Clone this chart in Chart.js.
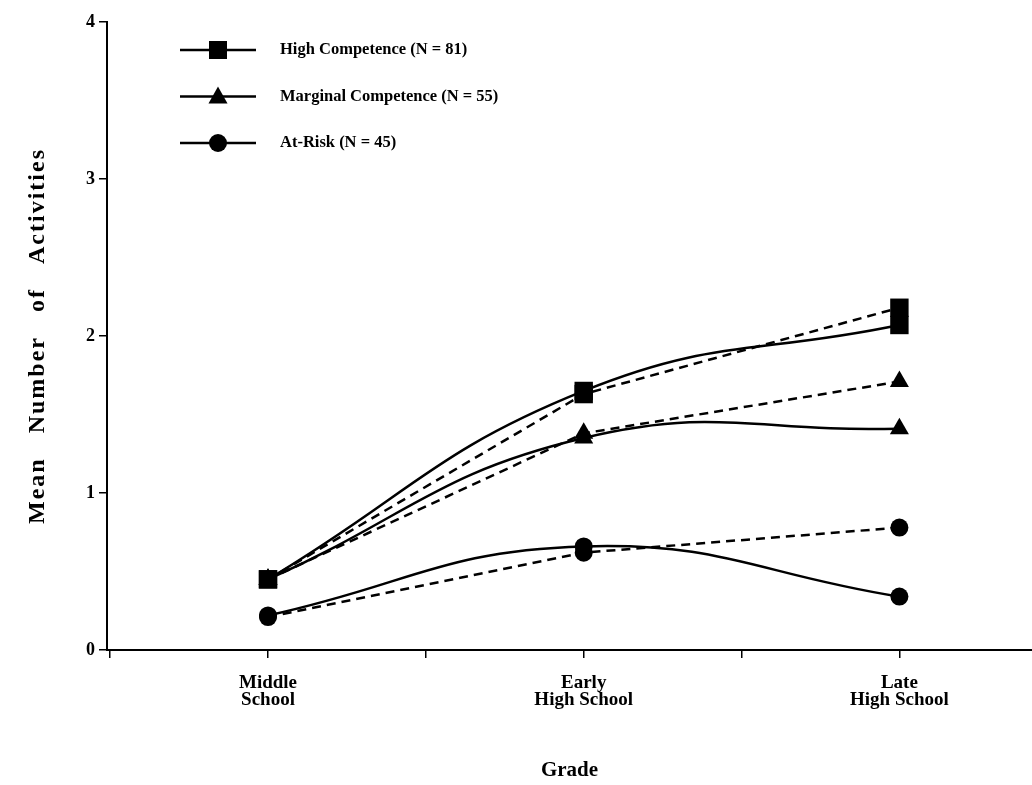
<!DOCTYPE html>
<html>
<head>
<meta charset="utf-8">
<title>Mean Number of Activities by Grade</title>
<script src="https://cdn.jsdelivr.net/npm/chart.js@4.4.1/dist/chart.umd.min.js"></script>
<style>
  body { margin: 0; background: #fff; }
  #wrap { width: 1032px; height: 785px; }
</style>
</head>
<body>
<div id="wrap"><canvas id="chart" width="1032" height="785"></canvas></div>
<script>
"use strict";

// grades on the x axis (1 = middle school, 2 = early HS, 3 = late HS)
const grades = [1, 2, 3];
const gradeLabels = { 1: ["Middle", "School"], 2: ["Early", "High School"], 3: ["Late", "High School"] };
const xTicks = [0.5, 1, 1.5, 2, 2.5, 3];

const groups = ["High Competence (N = 81)", "Marginal Competence (N = 55)", "At-Risk (N = 45)"];
const markers = ["rect", "triangle", "circle"];
const yTitle = "Mean   Number   of   Activities";

// observed means (dashed lines)
const highObserved = [0.45, 1.63, 2.18];
const marginalObserved = [0.45, 1.38, 1.71];
const atRiskObserved = [0.21, 0.62, 0.78];

// fitted curves (solid lines)
const highFitted = [0.45, 1.65, 2.07];
const marginalFitted = [0.45, 1.35, 1.41];
const atRiskFitted = [0.22, 0.66, 0.34];

const markerRadius = { rect: 13, triangle: 11, circle: 9 };

Chart.defaults.font.family = "'Liberation Serif', 'Times New Roman', serif";
Chart.defaults.font.weight = "bold";
Chart.defaults.color = "#000";

const toPoints = (vals) => grades.map((g, i) => ({ x: g, y: vals[i] }));

const makeSet = (label, vals, style, dashed) => ({
    label: label,
    data: toPoints(vals),
    borderColor: "#000",
    backgroundColor: "#000",
    borderWidth: 2.5,
    borderDash: dashed ? [9, 6] : [],
    tension: dashed ? 0 : 0.45,
    pointStyle: style,
    pointRadius: markerRadius[style],
    pointBorderWidth: 0,
    pointBackgroundColor: "#000",
    clip: false
});

// hand drawn legend + spaced-out y title, like the printed figure
const paperLegend = {
    id: "paperLegend",
    afterDraw(chart) {
        const ctx = chart.ctx;
        ctx.save();
        groups.forEach((name, i) => {
            const y = 50 + i * 46.5;
            ctx.strokeStyle = "#000";
            ctx.fillStyle = "#000";
            ctx.lineWidth = 2.5;
            ctx.beginPath();
            ctx.moveTo(180, y);
            ctx.lineTo(256, y);
            ctx.stroke();
            const mx = 218;
            ctx.beginPath();
            if (markers[i] === "rect") {
                ctx.rect(mx - 9, y - 9, 18, 18);
            } else if (markers[i] === "triangle") {
                ctx.moveTo(mx, y - 10);
                ctx.lineTo(mx + 9.5, y + 7);
                ctx.lineTo(mx - 9.5, y + 7);
                ctx.closePath();
            } else {
                ctx.arc(mx, y, 9, 0, Math.PI * 2);
            }
            ctx.fill();
            ctx.font = "bold 16.5px 'Liberation Serif', serif";
            ctx.textBaseline = "middle";
            ctx.fillText(name, 280, y);
        });

        const yScale = chart.scales.y;
        ctx.translate(38, (yScale.top + yScale.bottom) / 2);
        ctx.rotate(-Math.PI / 2);
        ctx.font = "bold 24px 'Liberation Serif', serif";
        ctx.letterSpacing = "2px";
        ctx.textAlign = "center";
        ctx.textBaseline = "middle";
        ctx.fillText(yTitle, 0, 0);
        ctx.restore();
    }
};

new Chart(document.getElementById("chart"), {
    type: "line",
    data: {
        datasets: [
            makeSet(groups[2], atRiskObserved, "circle", true),
            makeSet(groups[2], atRiskFitted, "circle", false),
            makeSet(groups[1], marginalObserved, "triangle", true),
            makeSet(groups[1], marginalFitted, "triangle", false),
            makeSet(groups[0], highObserved, "rect", true),
            makeSet(groups[0], highFitted, "rect", false)
        ]
    },
    options: {
        responsive: false,
        animation: false,
        layout: { autoPadding: false, padding: { top: 22, right: 0, bottom: 0, left: 0 } },
        plugins: {
            legend: { display: false },
            tooltip: { enabled: false }
        },
        scales: {
            x: {
                type: "linear",
                min: 0.49,
                max: 3.42,
                afterFit: (scale) => { scale.height = 135; },
                afterBuildTicks: (scale) => { scale.ticks = xTicks.map((v) => ({ value: v })); },
                border: { display: true, color: "#000", width: 2 },
                grid: { drawOnChartArea: false, drawTicks: true, tickLength: 8, tickColor: "#000", lineWidth: 1.5 },
                ticks: {
                    autoSkip: false,
                    maxRotation: 0,
                    padding: 16,
                    font: { size: 19, weight: "bold", lineHeight: 0.92 },
                    callback: (v) => gradeLabels[v] || ""
                },
                title: {
                    display: true,
                    text: "Grade",
                    font: { size: 21, weight: "bold", lineHeight: 1.2 },
                    padding: { top: 0, bottom: 2 }
                }
            },
            y: {
                min: 0,
                max: 4,
                afterFit: (scale) => { scale.width = 107; },
                border: { display: true, color: "#000", width: 2 },
                grid: { drawOnChartArea: false, drawTicks: true, tickLength: 8, tickColor: "#000", lineWidth: 1.5 },
                ticks: { stepSize: 1, padding: 4, font: { size: 18, weight: "bold" } },
                title: { display: false }
            }
        }
    },
    plugins: [paperLegend]
});
</script>
</body>
</html>
